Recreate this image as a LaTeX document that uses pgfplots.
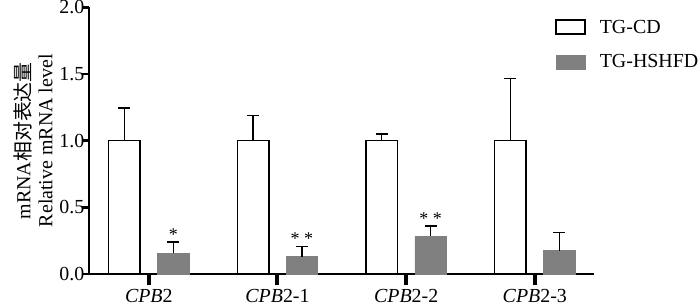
\documentclass[border=0pt]{standalone}
\usepackage{pgfplots}
\pgfplotsset{compat=1.18}
\usepackage{fontspec}
\setmainfont{Liberation Serif}
\newfontfamily\cjk{Noto Sans CJK SC}
\definecolor{bargray}{RGB}{128,128,128}
\begin{document}
\begin{tikzpicture}
\begin{axis}[
  scale only axis,
  width=505bp, height=266.5bp,
  xmin=-0.465, xmax=3.46,
  ymin=0, ymax=2,
  ybar, bar width=0.245,
  axis x line*=bottom, axis y line*=left,
  axis line style={line width=2.2bp},
  xtick={0,1,2,3},
  xticklabels={\textit{CPB}2,\textit{CPB}2-1,\textit{CPB}2-2,\textit{CPB}2-3},
  ytick={0,0.5,1,1.5,2},
  yticklabel style={/pgf/number format/fixed,/pgf/number format/fixed zerofill,/pgf/number format/precision=1, xshift=3bp, inner ysep=0pt},
  /pgf/number format/assume math mode=true,
  tick align=outside,
  xtick style={line width=4bp, black, /pgfplots/major tick length=11bp},
  ytick style={line width=2.5bp, black, /pgfplots/major tick length=7bp},
  x tick label style={inner ysep=0pt, yshift=-10.5bp},
  ticklabel style={font=\fontsize{20}{24}\selectfont},
  ylabel={mRNA{\cjk 相对表达量}\\Relative mRNA level},
  ylabel style={align=center, font=\fontsize{20}{22}\selectfont},
  legend style={draw=none, fill=none, at={(axis description cs:0.923,0.962)}, anchor=north west,
    font=\fontsize{20}{24}\selectfont, inner xsep=0pt, inner ysep=0pt, row sep=16bp, cells={anchor=west}},
  legend image code/.code={\draw[#1] (0bp,-7bp) rectangle (29bp,7bp); \path (0bp,0bp) (41bp,0bp);},
  clip=false,
]
\addplot[bar shift=-0.19, draw=black, line width=1.5bp, fill=white,
  error bars/.cd, y dir=plus, y explicit, error mark=-, error mark options={rotate=90, line width=1.3bp, mark size=6bp, black},
  error bar style={line width=1.3bp, black}]
  coordinates {(0,1.0) +- (0,0.245) (1,1.0) +- (0,0.19) (2,1.0) +- (0,0.05) (3,1.0) +- (0,0.465)};
\addlegendentry{TG-CD}
\addplot[bar shift=0.19, draw=bargray, line width=0.5bp, fill=bargray,
  error bars/.cd, y dir=plus, y explicit, error mark=-, error mark options={rotate=90, line width=1.3bp, mark size=6bp, black},
  error bar style={line width=1.3bp, black}]
  coordinates {(0,0.155) +- (0,0.085) (1,0.13) +- (0,0.075) (2,0.285) +- (0,0.075) (3,0.175) +- (0,0.135)};
\addlegendentry{TG-HSHFD}
\addplot[bar shift=0.19, draw=none, fill=none, forget plot, nodes near coords, point meta=explicit symbolic,
  nodes near coords style={font=\fontsize{18}{20}\selectfont, anchor=south, inner sep=0pt, yshift=1.5bp}]
  coordinates {(0,0.24) [*] (1,0.205) [* *] (2,0.36) [* *]};
\coordinate (O) at (rel axis cs:0,0);
\end{axis}
\pgfresetboundingbox
\path[use as bounding box] ([shift={(-89bp,-32bp)}]O) rectangle ++(700bp,306bp);
\end{tikzpicture}
\end{document}
